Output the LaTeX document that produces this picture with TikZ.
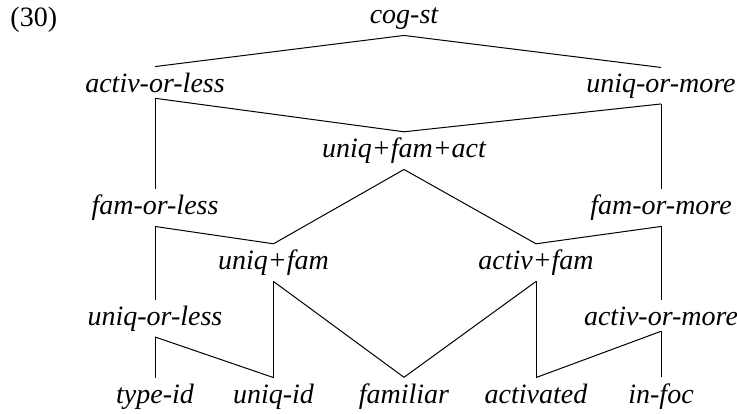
\documentclass[tikz,border=0pt]{standalone}
\usepackage{fontspec}
\setmainfont{Liberation Serif}
\usepackage{tikz}

\begin{document}
\begin{tikzpicture}[x=0.4pt, y=-0.4pt,
    cat/.style={anchor=base, inner xsep=0pt, inner ysep=2.2pt, font=\fontsize{11.2}{13}\selectfont\itshape}]
    \useasboundingbox (0, 0) rectangle (737, 413);
    \node[anchor=base west, inner sep=0pt, font=\fontsize{11.2}{13}\selectfont] (exno) at (10, 26) {(30)};
    % lattice nodes
    \node[cat] (cogst) at (404, 23.5) {cog-st};
    \node[cat] (actless) at (155, 92) {activ-or-less};
    \node[cat] (uniqmore) at (661, 92) {uniq-or-more};
    \node[cat] (ufa) at (404, 157.5) {uniq+fam+act};
    \node[cat] (famless) at (155, 214.5) {fam-or-less};
    \node[cat] (fammore) at (661, 214.5) {fam-or-more};
    \node[cat] (uf) at (273.5, 269.5) {uniq+fam};
    \node[cat] (af) at (536, 269.5) {activ+fam};
    \node[cat] (uniqless) at (155, 325) {uniq-or-less};
    \node[cat] (actmore) at (661, 325) {activ-or-more};
    \node[cat] (typeid) at (155, 403) {type-id};
    \node[cat] (uniqid) at (273.5, 403) {uniq-id};
    \node[cat] (familiar) at (404, 403) {familiar};
    \node[cat] (activated) at (536, 403) {activated};
    \node[cat] (infoc) at (661, 403) {in-foc};
    % connections
    \draw (cogst.south) -- (actless.north);
    \draw (cogst.south) -- (uniqmore.north);
    \draw (actless.south) -- (ufa.north);
    \draw (uniqmore.south) -- (ufa.north);
    \draw (actless.south) -- (famless.north);
    \draw (uniqmore.south) -- (fammore.north);
    \draw (ufa.south) -- (uf.north);
    \draw (ufa.south) -- (af.north);
    \draw (famless.south) -- (uf.north);
    \draw (fammore.south) -- (af.north);
    \draw (famless.south) -- (uniqless.north);
    \draw (fammore.south) -- (actmore.north);
    \draw (uf.south) -- (uniqid.north);
    \draw (uf.south) -- (familiar.north);
    \draw (af.south) -- (familiar.north);
    \draw (af.south) -- (activated.north);
    \draw (uniqless.south) -- (typeid.north);
    \draw (uniqless.south) -- (uniqid.north);
    \draw (actmore.south) -- (activated.north);
    \draw (actmore.south) -- (infoc.north);
\end{tikzpicture}
\end{document}
